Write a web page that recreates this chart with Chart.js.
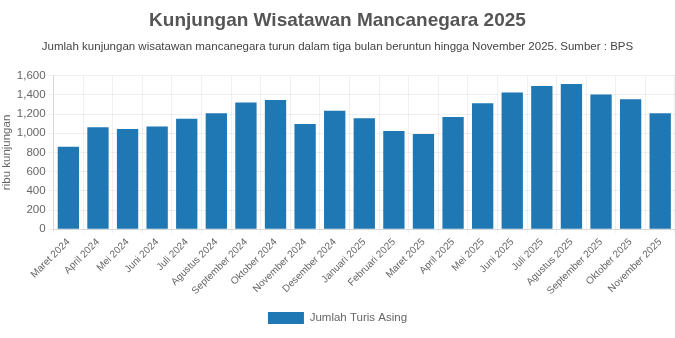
<!DOCTYPE html>
<html>
<head>
<meta charset="utf-8">
<title>Kunjungan Wisatawan Mancanegara 2025</title>
<script src="https://cdn.jsdelivr.net/npm/chart.js@4.4.1/dist/chart.umd.min.js"></script>
<style>
  html, body { margin: 0; padding: 0; background: #fff; }
  #wrap { width: 675px; height: 338px; position: relative; }
</style>
</head>
<body>
<div id="wrap"><canvas id="kunjunganChart"></canvas></div>
<script>
// bulan (Maret 2024 - November 2025)
const months = [
  'Maret 2024', 'April 2024', 'Mei 2024', 'Juni 2024', 'Juli 2024', 'Agustus 2024',
  'September 2024', 'Oktober 2024', 'November 2024', 'Desember 2024', 'Januari 2025',
  'Februari 2025', 'Maret 2025', 'April 2025', 'Mei 2025', 'Juni 2025', 'Juli 2025',
  'Agustus 2025', 'September 2025', 'Oktober 2025', 'November 2025'
];

// jumlah turis asing, ribu kunjungan
const turisAsing = [
  858, 1062, 1044, 1070, 1150, 1207, 1319, 1347, 1097, 1234, 1157,
  1023, 992, 1168, 1312, 1424, 1491, 1513, 1403, 1354, 1207
];

const yTicks = { min: 0, max: 1600, step: 200 };

const fontFamily = '"Liberation Sans", Arial, sans-serif';
Chart.defaults.font.family = fontFamily;
Chart.defaults.color = '#666';

const ctx = document.getElementById('kunjunganChart').getContext('2d');
const chart = new Chart(ctx, {
  type: 'bar',
  data: {
    labels: months,
    datasets: [{
      label: 'Jumlah Turis Asing',
      data: turisAsing,
      backgroundColor: '#1f77b4',
      borderWidth: 0
    }]
  },
  options: {
    responsive: true,
    maintainAspectRatio: false,
    animation: false,
    layout: { padding: { left: 0, right: 0, top: 0, bottom: 4 } },
    plugins: {
      title: {
        display: true,
        text: 'Kunjungan Wisatawan Mancanegara 2025',
        color: '#555',
        font: { size: 19, weight: 'bold' },
        padding: { top: 9, bottom: 8 }
      },
      subtitle: {
        display: true,
        text: 'Jumlah kunjungan wisatawan mancanegara turun dalam tiga bulan beruntun hingga November 2025. Sumber : BPS',
        color: '#444',
        font: { size: 11.5 },
        padding: { bottom: 22 }
      },
      legend: {
        position: 'bottom',
        labels: { boxWidth: 36, boxHeight: 12, color: '#666', font: { size: 11.5 }, padding: 12 }
      },
      tooltip: { enabled: false }
    },
    scales: {
      x: {
        grid: { color: 'rgba(0,0,0,0.06)', tickLength: 4 },
        ticks: { minRotation: 45, maxRotation: 45, autoSkip: false, font: { size: 10 } }
      },
      y: {
        min: yTicks.min,
        max: yTicks.max,
        grid: { color: 'rgba(0,0,0,0.06)', tickLength: 5 },
        ticks: { stepSize: yTicks.step, font: { size: 11.5 }, padding: 3 },
        title: { display: true, text: 'ribu kunjungan', font: { size: 11.5 }, color: '#666', padding: 0 }
      }
    }
  }
});
</script>
</body>
</html>
